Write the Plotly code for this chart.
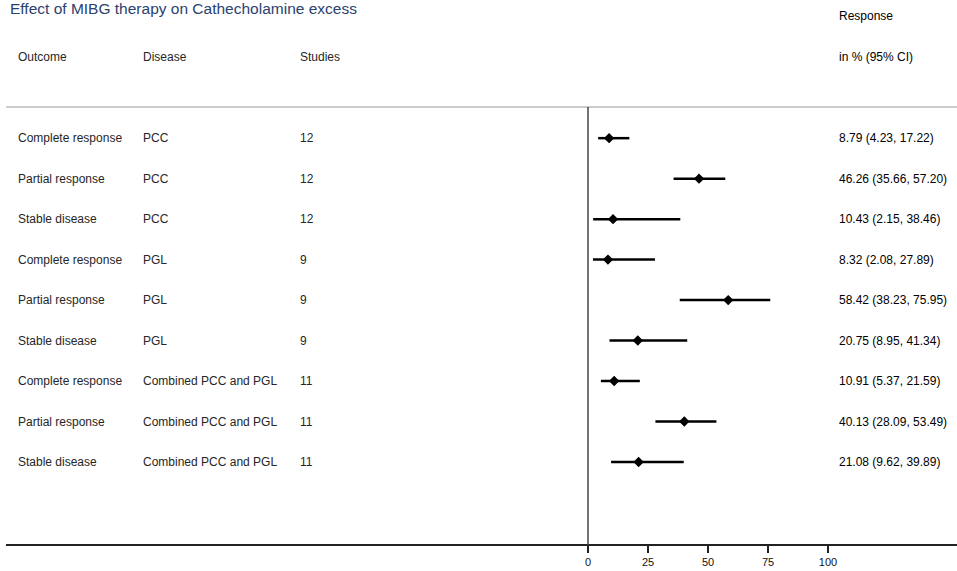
import plotly.graph_objects as go

outcomes = ["Complete response", "Partial response", "Stable disease",
            "Complete response", "Partial response", "Stable disease",
            "Complete response", "Partial response", "Stable disease"]
diseases = ["PCC", "PCC", "PCC", "PGL", "PGL", "PGL",
            "Combined PCC and PGL", "Combined PCC and PGL", "Combined PCC and PGL"]
studies = [12, 12, 12, 9, 9, 9, 11, 11, 11]
estimate = [8.79, 46.26, 10.43, 8.32, 58.42, 20.75, 10.91, 40.13, 21.08]
lower = [4.23, 35.66, 2.15, 2.08, 38.23, 8.95, 5.37, 28.09, 9.62]
upper = [17.22, 57.20, 38.46, 27.89, 75.95, 41.34, 21.59, 53.49, 39.89]
tick_vals = [0, 25, 50, 75, 100]

W, H = 957, 571
TOP, BOT = 107, 545
rows = list(range(1, len(estimate) + 1))

def px(x):
    return x / W

def py(y):
    return (BOT - y) / (BOT - TOP)

fig = go.Figure()
fig.add_trace(go.Scatter(
    x=estimate, y=rows, mode="markers",
    marker=dict(symbol="diamond", size=8, color="black"),
    error_x=dict(type="data", symmetric=False,
                 array=[u - e for u, e in zip(upper, estimate)],
                 arrayminus=[e - l for e, l in zip(estimate, lower)],
                 color="black", thickness=2.5, width=0),
    showlegend=False, hoverinfo="skip"))

FAM = "Liberation Sans, Arial, sans-serif"
font_l = dict(family=FAM, size=12, color="#262626")
font_r = dict(family=FAM, size=12, color="#000")
ann = []
for i, r in enumerate(rows):
    ann.append(dict(x=px(16), y=r, xref="paper", yref="y", text=outcomes[i],
                    xanchor="left", yanchor="middle", showarrow=False, font=font_l))
    ann.append(dict(x=px(141), y=r, xref="paper", yref="y", text=diseases[i],
                    xanchor="left", yanchor="middle", showarrow=False, font=font_l))
    ann.append(dict(x=px(298), y=r, xref="paper", yref="y", text=str(studies[i]),
                    xanchor="left", yanchor="middle", showarrow=False, font=font_l))
    ann.append(dict(x=px(837), y=r, xref="paper", yref="y",
                    text=f"{estimate[i]:.2f} ({lower[i]:.2f}, {upper[i]:.2f})",
                    xanchor="left", yanchor="middle", showarrow=False, font=font_r))

for txt, x in [("Outcome", 16), ("Disease", 141), ("Studies", 298)]:
    ann.append(dict(x=px(x), y=py(57), xref="paper", yref="paper", text=txt,
                    xanchor="left", yanchor="middle", showarrow=False, font=font_l))
ann.append(dict(x=px(837), y=py(16), xref="paper", yref="paper", text="Response",
                xanchor="left", yanchor="middle", showarrow=False, font=font_r))
ann.append(dict(x=px(837), y=py(57), xref="paper", yref="paper", text="in % (95% CI)",
                xanchor="left", yanchor="middle", showarrow=False, font=font_r))
ann.append(dict(x=px(8), y=py(19), xref="paper", yref="paper",
                text="Effect of MIBG therapy on Cathecholamine excess",
                xanchor="left", yanchor="bottom", showarrow=False,
                font=dict(family=FAM, size=15.5, color="#2b4170")))

shapes = [
    dict(type="line", xref="paper", yref="paper", x0=px(6), x1=1, y0=1, y1=1,
         line=dict(color="#bbbbbb", width=1.5)),
    dict(type="line", xref="paper", yref="paper", x0=px(6), x1=1, y0=0, y1=0,
         line=dict(color="#222222", width=1.8)),
    dict(type="line", xref="x", yref="paper", x0=0, x1=0, y0=0, y1=1,
         line=dict(color="#444444", width=1.5)),
]

scale = 2.4
x0 = -588 / scale
fig.update_layout(
    template="none",
    width=W, height=H,
    margin=dict(l=0, r=0, t=TOP, b=H - BOT, pad=0),
    paper_bgcolor="white", plot_bgcolor="white",
    xaxis=dict(range=[x0, x0 + W / scale], tickvals=tick_vals, ticks="outside",
               ticklen=7, tickwidth=1.5, tickcolor="#222", showgrid=False,
               zeroline=False, showline=False,
               tickfont=dict(family=FAM, size=11, color="#111")),
    yaxis=dict(range=[11.05, 0.23], visible=False, showgrid=False, zeroline=False),
    annotations=ann, shapes=shapes,
)
fig.write_html("out.html")
